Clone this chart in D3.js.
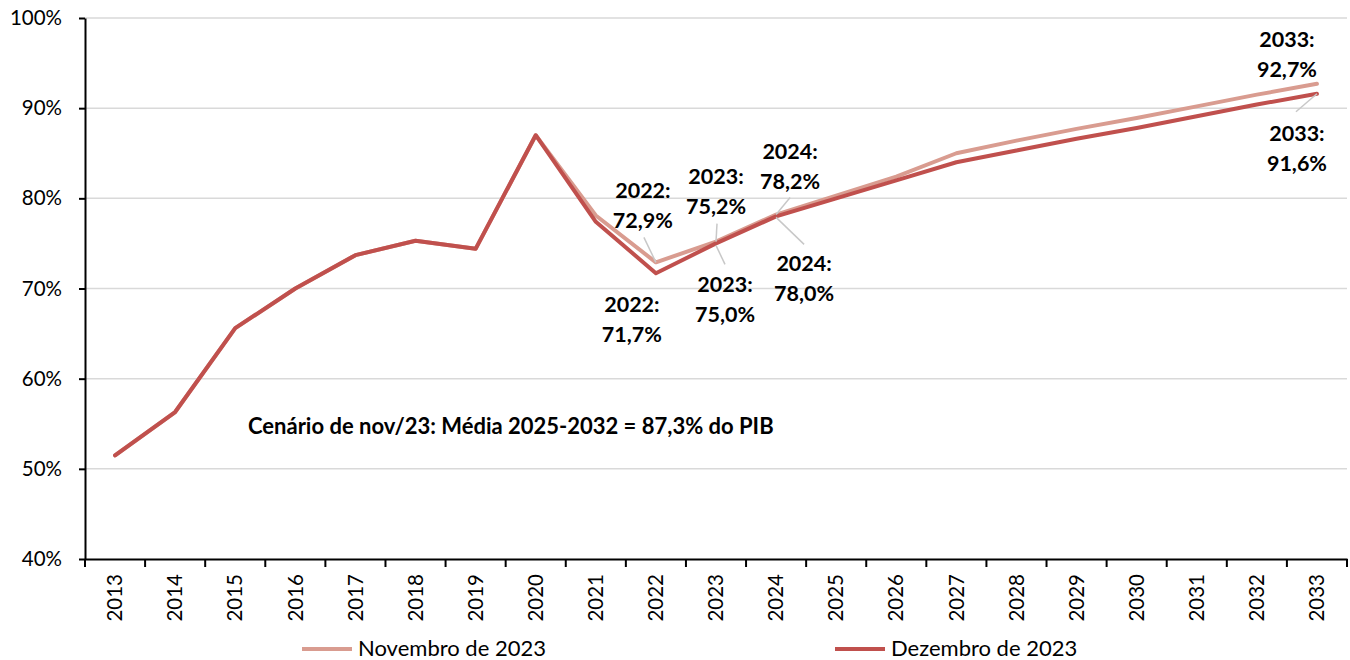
<!DOCTYPE html>
<html><head><meta charset="utf-8">
<script src="https://cdn.jsdelivr.net/npm/d3@7"></script>
<style>
html,body{margin:0;padding:0;background:#fff;}
svg text{font-family:Lato,"Open Sans",sans-serif;}
</style></head>
<body>
<svg id="chart" width="1350" height="660"></svg>
<script>
const years = ["2013","2014","2015","2016","2017","2018","2019","2020","2021","2022","2023","2024","2025","2026","2027","2028","2029","2030","2031","2032","2033"];
const novembro = [51.5,56.3,65.6,70.0,73.7,75.3,74.4,87.0,78.1,72.9,75.2,78.2,80.3,82.4,85.0,86.4,87.7,88.9,90.2,91.5,92.7];
const dezembro = [51.5,56.3,65.6,70.0,73.7,75.3,74.4,87.0,77.4,71.7,75.0,78.0,80.0,82.0,84.0,85.3,86.6,87.8,89.1,90.4,91.6];
const yTicks = [40,50,60,70,80,90,100];
const seriesNames = ["Novembro de 2023","Dezembro de 2023"];
const annotationText = "Cenário de nov/23: Média 2025-2032 = 87,3% do PIB";
// labelled points: [series index, year]
const labelPoints = [[0,"2022"],[1,"2022"],[0,"2023"],[1,"2023"],[0,"2024"],[1,"2024"],[0,"2033"],[1,"2033"]];
// layout offsets for labels (text centre dx, first line dy; leader start/end offsets)
const labelLayout = [
  {dx:-13, dy:-65, l1:[-12,-25], l2:[0,0]},
  {dx:-24, dy:38, l1:null},
  {dx:0, dy:-59, l1:[1,-18], l2:[0,0]},
  {dx:9, dy:48, l1:[0,2], l2:[9,21]},
  {dx:14, dy:-57, l1:[14,-17], l2:[0,0]},
  {dx:28, dy:54, l1:[0,1], l2:[28,28]},
  {dx:-30, dy:-38, l1:null},
  {dx:-20, dy:46, l1:[0,0], l2:[-21,18]}
];
const colors = ["#D99C90","#C0504D"];

const svg = d3.select("#chart");
const L=85, R=1347, T=18, B=559;
const x = d3.scaleBand().domain(years).range([L,R]).padding(0);
const y = d3.scaleLinear().domain([40,100]).range([B,T]);
const cx = d => x(d)+x.bandwidth()/2;

// grid
svg.append("g").selectAll("line").data(yTicks.filter(t=>t>40)).join("line")
  .attr("x1",L).attr("x2",R).attr("y1",d=>y(d)).attr("y2",d=>y(d))
  .attr("stroke","#D9D9D9").attr("stroke-width",1.5);

// y axis
const ya = svg.append("g").attr("transform",`translate(${L},0)`)
  .call(d3.axisLeft(y).tickValues(yTicks).tickFormat(d=>d+"%").tickSize(6).tickSizeOuter(0));
ya.select(".domain").attr("stroke","#000").attr("stroke-width",2);
ya.selectAll(".tick line").attr("stroke","#000").attr("stroke-width",2);
ya.selectAll(".tick text").attr("font-size",20.5).attr("fill","#000").attr("x",-23).attr("font-family","Lato");

// x axis
const xa = svg.append("g").attr("transform",`translate(0,${B})`)
  .call(d3.axisBottom(x).tickSize(0).tickSizeOuter(0));
xa.select(".domain").attr("stroke","#000").attr("stroke-width",2);
xa.selectAll(".tick text").attr("font-size",20.5).attr("fill","#000").attr("font-family","Lato")
  .attr("transform","rotate(-90)").attr("text-anchor","end").attr("x",-15).attr("y",0).attr("dy","0.35em");
svg.append("g").selectAll("line").data(years.concat(["end"])).join("line")
  .attr("x1",(d,i)=>L+i*x.bandwidth()).attr("x2",(d,i)=>L+i*x.bandwidth())
  .attr("y1",B).attr("y2",B+8).attr("stroke","#000").attr("stroke-width",2);

// lines
const series = [novembro, dezembro];
const line = d3.line().x((d,i)=>cx(years[i])).y(d=>y(d));
series.forEach((s,k)=>{
  svg.append("path").datum(s).attr("d",line).attr("fill","none")
    .attr("stroke",colors[k]).attr("stroke-width",4).attr("stroke-linejoin","round").attr("stroke-linecap","round");
});

// labels
labelPoints.forEach((p,i)=>{
  const [k,yr] = p;
  const v = series[k][years.indexOf(yr)];
  const px = cx(yr), py = y(v);
  const lay = labelLayout[i];
  if(lay.l1){
    svg.append("line").attr("x1",px+lay.l1[0]).attr("y1",py+lay.l1[1])
      .attr("x2",px+lay.l2[0]).attr("y2",py+lay.l2[1])
      .attr("stroke","#C8C8C8").attr("stroke-width",1.5);
  }
  const t = svg.append("text").attr("text-anchor","middle").attr("font-weight","bold")
    .attr("font-size",21.5).attr("fill","#000");
  t.append("tspan").attr("x",px+lay.dx).attr("y",py+lay.dy+1).text(yr+":");
  t.append("tspan").attr("x",px+lay.dx).attr("y",py+lay.dy+31).text(d3.format(".1f")(v).replace(".",",")+"%");
});

// annotation
svg.append("text").attr("x",248).attr("y",434).attr("font-weight","bold").attr("font-size",22)
  .attr("fill","#000").text(annotationText);

// legend
const legX = [302, 835];
seriesNames.forEach((n,k)=>{
  svg.append("line").attr("x1",legX[k]).attr("x2",legX[k]+50).attr("y1",649).attr("y2",649)
    .attr("stroke",colors[k]).attr("stroke-width",4);
  svg.append("text").attr("x",legX[k]+56).attr("y",656).attr("font-size",22).attr("fill","#000").text(n);
});
</script>
</body></html>
